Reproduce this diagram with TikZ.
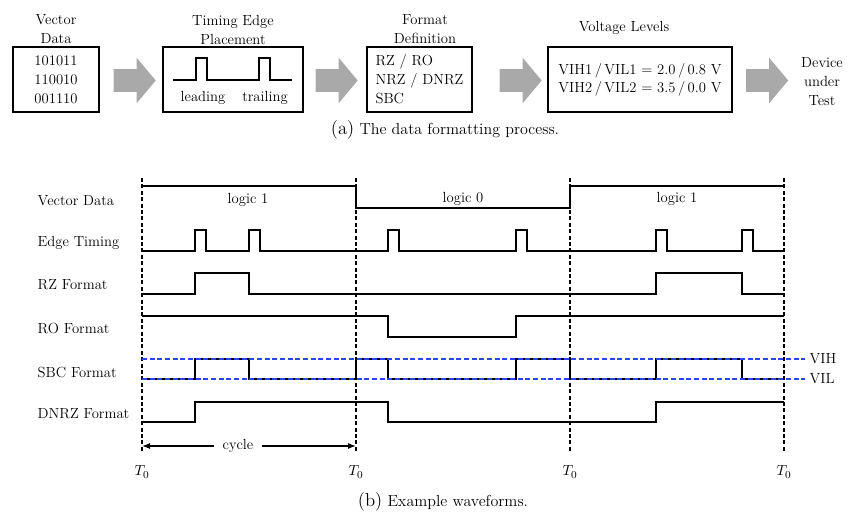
\documentclass[tikz,border=0pt]{standalone}
\usepackage{fontspec}
\usepackage{tikz}
\usetikzlibrary{arrows.meta,shapes.arrows}
\definecolor{cInk}{HTML}{000000}
\definecolor{cGrey}{HTML}{A9A9A9}
\definecolor{cLevel}{HTML}{2747EA}
\tikzset{
  fbox/.style={draw=cInk,line width=1.2pt,minimum height=48.75pt,inner sep=0pt,align=#1},
  fbox/.default=center,
  hdr/.style={align=center},
  garr/.style={single arrow,fill=cGrey,draw=none,minimum height=31.5pt,inner xsep=0pt,inner ysep=8.25pt,
    single arrow head extend=8.6pt,single arrow tip angle=100},
  wave/.style={line width=0.9pt,line join=miter,color=cInk},
  tline/.style={line width=0.9pt,dash pattern=on 3pt off 1.8pt},
  lvl/.style={line width=0.9pt,color=cLevel,dash pattern=on 3.75pt off 2pt},
  rowlbl/.style={anchor=west},
  carr/.style={-{Latex[length=6pt,width=4.5pt]},line width=0.9pt},
  captxt/.style={font=\fontsize{12}{14}\selectfont},
}

\begin{document}
\begin{tikzpicture}[x=0.75pt,y=-0.75pt,font=\fontsize{11}{14.25}\selectfont]
  \useasboundingbox (0,0) rectangle (861,514);
  % (a) the formatting chain
  \node[hdr] (hvec) at (56,29.5) {Vector\\Data};
  \node[fbox,minimum width=64.5pt] (vec) at (56,79.5) {101011\\110010\\001110};
  \node[garr] (ar1) at (130,80.5) {};
  \node[hdr] (htim) at (233,29.5) {Timing Edge\\Placement};
  \node[fbox,minimum width=105pt] (tim) at (233,79.5) {};
  \draw[wave,line width=0.8pt] (173,80) -- (196,80) -- (196,58) -- (207,58) -- (207,80)
    -- (259,80) -- (259,58) -- (270,58) -- (270,80) -- (292,80);
  \node (lead) at (203,98) {leading};
  \node (trail) at (265,98) {trailing};
  \node[garr] (ar2) at (332,80.5) {};
  \node[hdr] (hfmt) at (425,29.5) {Format\\Definition};
  \node[fbox=left,minimum width=78.75pt] (fmt) at (419.5,79.5) {RZ / RO\\NRZ / DNRZ\\SBC};
  \node[garr] (ar3) at (516,80.5) {};
  \node[hdr] (hvolt) at (624,28) {Voltage Levels};
  \node[fbox=left,minimum width=138pt,font=\fontsize{11}{13.5}\selectfont] (volt) at (640,79.5)
    {VIH1\,/\,VIL1 = 2.0\,/\,0.8 V\\VIH2\,/\,VIL2 = 3.5\,/\,0.0 V};
  \node[garr] (ar4) at (762.5,80.5) {};
  \node[hdr] (dut) at (822,82) {Device\\under\\Test};
  \node[captxt] (capa) at (445,130) {{\fontsize{14}{16}\selectfont (a)} The data formatting process.};

  % (b) waveforms
  \foreach \x [count=\i] in {142,356,570,784} {
    \draw[tline] (\x,178) -- (\x,453);
    \node (t\i) at (\x,472) {$T_0$};
  }
  \node[rowlbl] (rvec) at (33,201) {Vector Data};
  \node[rowlbl] (redge) at (33,243) {Edge Timing};
  \node[rowlbl] (rrz) at (33,285) {RZ Format};
  \node[rowlbl] (rro) at (33,328) {RO Format};
  \node[rowlbl] (rsbc) at (33,372) {SBC Format};
  \node[rowlbl] (rdnrz) at (33,414) {DNRZ Format};

  \draw[wave] (142,186) -- (356,186) -- (356,208) -- (570,208) -- (570,186) -- (784,186);
  \node (lg1) at (248,200) {logic 1};
  \node (lg2) at (463,199) {logic 0};
  \node (lg3) at (677,199) {logic 1};
  \draw[wave] (142,251) \foreach \p in {195,249,388,516,656,742} {
    -- (\p,251) -- (\p,230) -- ++(11,0) -- ++(0,21)} -- (784,251);
  \draw[wave] (142,294) -- (195,294) -- (195,273) -- (249,273) -- (249,294)
    -- (656,294) -- (656,273) -- (742,273) -- (742,294) -- (784,294);
  \draw[wave] (142,316) -- (388,316) -- (388,337) -- (516,337) -- (516,316) -- (784,316);
  \draw[wave] (142,379) -- (195,379) -- (195,359) -- (249,359) -- (249,379) -- (356,379)
    -- (356,359) -- (388,359) -- (388,379) -- (516,379) -- (516,359) -- (570,359)
    -- (570,379) -- (656,379) -- (656,359) -- (742,359) -- (742,379) -- (784,379);
  \draw[wave] (142,422) -- (195,422) -- (195,402) -- (388,402) -- (388,422)
    -- (656,422) -- (656,402) -- (784,402);

  \node[anchor=west] (vih) at (805,359) {VIH};
  \node[anchor=west] (vil) at (805,379) {VIL};
  \draw[lvl] (142,359) -- (vih.west);
  \draw[lvl] (142,379) -- (vil.west);

  \coordinate (cl) at (142,446);
  \coordinate (cr) at (356,446);
  \node[inner xsep=6pt] (cyc) at (238,446) {cycle};
  \draw[carr] (cyc.west) -- (cl);
  \draw[carr] (cyc.east) -- (cr);

  \node[captxt] (capb) at (443,502) {{\fontsize{14}{16}\selectfont (b)} Example waveforms.};
\end{tikzpicture}
\end{document}
